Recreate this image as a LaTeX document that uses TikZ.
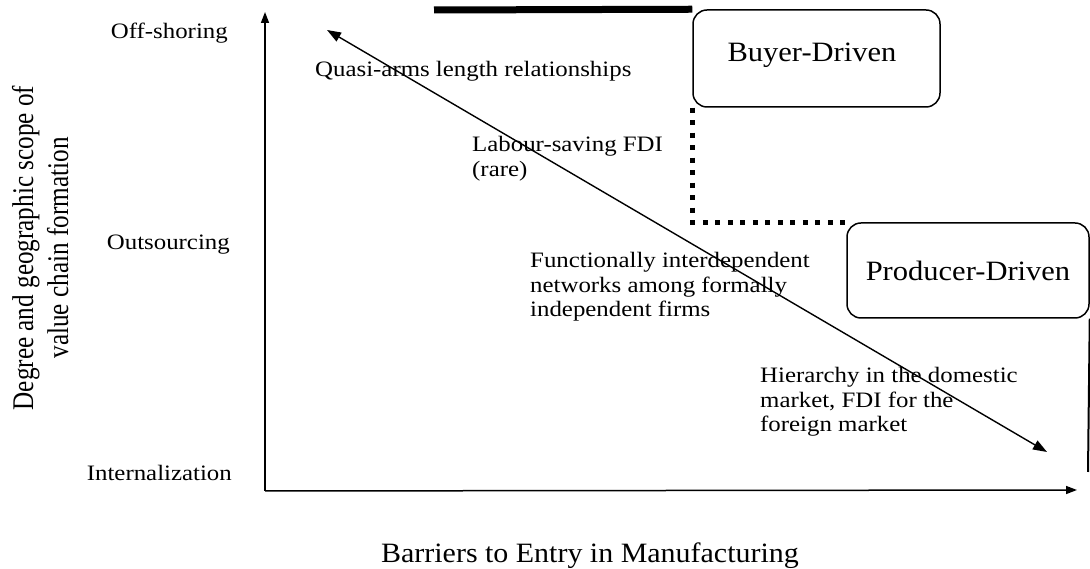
\documentclass[tikz,border=0pt]{standalone}
\usepackage{fontspec}
\setmainfont{Liberation Serif}
\newfontfamily\lblfont[FakeStretch=1.13]{Liberation Serif}
\newfontfamily\boxfont[FakeStretch=1.09]{Liberation Serif}
\newfontfamily\axfont[FakeStretch=1.07]{Liberation Serif}
\newfontfamily\yfont[FakeStretch=0.84]{Liberation Serif}
\usetikzlibrary{arrows.meta}

\tikzset{
  axis/.style={line width=1.5pt, -{Triangle[length=11pt,width=8pt]}},
  trend/.style={line width=1.4pt, {Triangle[length=14pt,width=10pt]}-{Triangle[length=14pt,width=10pt]}},
  lbl/.style={inner sep=0pt, font=\lblfont\fontsize{22}{24.5}\selectfont},
  boxtxt/.style={inner sep=0pt, font=\boxfont\fontsize{28}{32}\selectfont},
  govbox/.style={draw, line width=1.5pt, rounded corners=14pt, inner sep=0pt, boxtxt},
  bar/.style={line width=7pt},
  dots/.style={line width=5pt, dash pattern=on 5pt off 7.5pt},
  edge/.style={line width=2pt},
}

\begin{document}
\begin{tikzpicture}[x=1pt,y=1pt]
\useasboundingbox (0,0) rectangle (1090,569);

% axes
\coordinate (O) at (265,78);
\coordinate (ytip) at (265,557);
\coordinate (xtip) at (1077,79);
\draw[axis] (O) -- (ytip);
\draw[axis] (O) -- (xtip);

% levels on the vertical axis
\node[lbl, anchor=base east] (off) at (228,530) {Off-shoring};
\node[lbl, anchor=base east] (out) at (230,319) {Outsourcing};
\node[lbl, anchor=base east] (int) at (232,88) {Internalization};

% axis titles
\node[inner sep=0pt, rotate=90, font=\yfont\fontsize{30}{35}\selectfont] (ytitle) at (43.5,321)
  {\begin{tabular}{@{}c@{}}Degree and geographic scope of\\ value chain formation\end{tabular}};
\node[inner sep=0pt, anchor=base, font=\axfont\fontsize{28}{32}\selectfont] (xtitle) at (590,6)
  {Barriers to Entry in Manufacturing};

% governance boxes
\node[govbox, minimum width=247pt, minimum height=97pt] (buyer) at (816.5,510.5) {};
\node[boxtxt, anchor=base] (buyertxt) at (812,507) {Buyer-Driven};
\node[govbox, minimum width=242pt, minimum height=95pt] (producer) at (968,298.5) {Producer-Driven};

% links between the boxes
\coordinate (barL) at (434,559);
\draw[bar] (barL) -- (buyer.north west);
\draw[dots] (buyer.south west) |- (producer.north west);
\coordinate (edgeB) at (1088,97);
\draw[edge] (producer.south east) -- (edgeB);

% diagonal trend
\coordinate (tA) at (327,539);
\coordinate (tB) at (1047,117);
\draw[trend] (tA) -- (tB);

% forms of organisation along the trend
\node[lbl, anchor=base west] (quasi) at (315,492)
  {Quasi-arms length relationships};
\node[lbl, anchor=base west] (labour) at (472,417)
  {\begin{tabular}[t]{@{}l@{}}Labour-saving FDI\\(rare)\end{tabular}};
\node[lbl, anchor=base west] (func) at (530,301)
  {\begin{tabular}[t]{@{}l@{}}Functionally interdependent\\networks among formally\\independent firms\end{tabular}};
\node[lbl, anchor=base west] (hier) at (760,186)
  {\begin{tabular}[t]{@{}l@{}}Hierarchy in the domestic\\market, FDI for the\\foreign market\end{tabular}};
\end{tikzpicture}
\end{document}
